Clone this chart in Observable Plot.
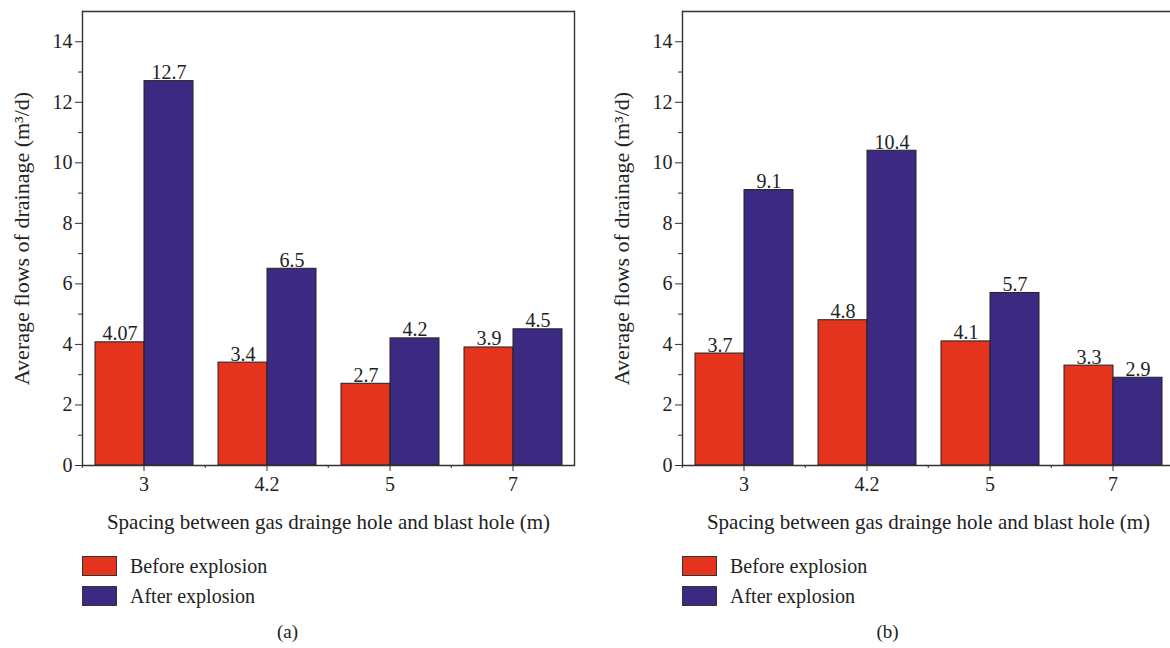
<!DOCTYPE html>
<html><head><meta charset="utf-8">
<script src="https://cdn.jsdelivr.net/npm/d3@7"></script>
<script src="https://cdn.jsdelivr.net/npm/@observablehq/plot@0.6"></script>
<style>
body{margin:0;background:#fff;font-family:"Liberation Serif",serif;color:#222;overflow:hidden}
#root{position:relative;width:1170px;height:648px;overflow:hidden;background:#fff}
.panel{position:absolute;top:0;width:585px;height:648px}
.panel svg{position:absolute;left:0;top:0}
.panel svg, .panel svg text{font-family:"Liberation Serif",serif !important}
.legend{position:absolute;left:82px;top:551px;font-size:20px}
.item{display:flex;align-items:center;height:30px}
.sw{width:35px;height:20px;border:1px solid #333;margin-right:13px;box-sizing:border-box}
.cap{position:absolute;top:621px;left:0;width:575px;text-align:center;font-size:19px}
</style>
</head><body><div id="root"></div>
<script>
const spacing = ["3", "4.2", "5", "7"];
const series = ["Before explosion", "After explosion"];
const beforeA = [4.07, 3.4, 2.7, 3.9];
const afterA = [12.7, 6.5, 4.2, 4.5];
const beforeB = [3.7, 4.8, 4.1, 3.3];
const afterB = [9.1, 10.4, 5.7, 2.9];
const yTicks = [0, 2, 4, 6, 8, 10, 12, 14];
const yMinorTicks = [1, 3, 5, 7, 9, 11, 13];
const colors = ["#E4341E", "#3C2981"];
const xLabel = "Spacing between gas drainge hole and blast hole (m)";
const yLabel = "Average flows of drainage (m³/d)";
const panelNames = ["(a)", "(b)"];

const W = 585, MARGIN_LEFT = 81, MARGIN_RIGHT = 10;
const step = (W - MARGIN_LEFT - MARGIN_RIGHT) / spacing.length;

function rowsOf(before, after) {
  const rows = [];
  spacing.forEach((s, i) => {
    rows.push({spacing: s, series: series[0], value: before[i]});
    rows.push({spacing: s, series: series[1], value: after[i]});
  });
  return rows;
}

function chart(before, after) {
  const rows = rowsOf(before, after);
  const ink = "#333";
  return Plot.plot({
    width: W, height: 531,
    marginLeft: MARGIN_LEFT, marginRight: MARGIN_RIGHT, marginTop: 11, marginBottom: 66,
    style: {fontFamily: "Liberation Serif", fontSize: "20px", color: "#222", background: "white", overflow: "visible"},
    fx: {domain: spacing, padding: 0, axis: null},
    x: {domain: series, paddingInner: 0, paddingOuter: 0.235, axis: null},
    y: {domain: [0, 15], axis: null},
    color: {domain: series, range: colors},
    marks: [
      Plot.barY(rows, {fx: "spacing", x: "series", y: "value", fill: "series", stroke: "#222", strokeWidth: 1}),
      Plot.text(rows, {fx: "spacing", x: "series", y: "value", text: d => String(d.value), lineAnchor: "bottom", dy: -2, fontSize: 20, fill: "#222"}),
      Plot.ruleY([0, 15], {stroke: ink, strokeWidth: 1.3}),
      Plot.frame({anchor: "left", facetAnchor: "left", stroke: ink, strokeWidth: 1.4}),
      Plot.frame({anchor: "right", facetAnchor: "right", stroke: ink, strokeWidth: 1.4}),
      Plot.axisY(yTicks, {tickSize: 7, tickPadding: 3, stroke: ink, fill: "#222", fontSize: 20, label: null}),
      Plot.axisY(yMinorTicks, {tickSize: 4, stroke: ink, tickFormat: () => "", label: null}),
      Plot.axisY({ticks: [], fill: "#222", fontSize: 22, label: yLabel, labelAnchor: "center", labelArrow: "none", labelOffset: 69}),
      Plot.axisFx({anchor: "bottom", tickSize: 6, tickPadding: 5, stroke: ink, fill: "#222", fontSize: 20, label: null}),
      Plot.axisFx({anchor: "bottom", tickSize: 3, stroke: ink, tickFormat: () => "", label: null, dx: -step / 2}),
      Plot.axisFx({anchor: "bottom", ticks: [], fill: "#222", fontSize: 21, label: xLabel, labelAnchor: "center", labelArrow: "none"})
    ]
  });
}

const root = document.getElementById("root");
[[beforeA, afterA], [beforeB, afterB]].forEach(([b, a], k) => {
  const panel = document.createElement("div");
  panel.className = "panel";
  panel.style.left = (k * 600) + "px";
  panel.appendChild(chart(b, a));
  const legend = document.createElement("div");
  legend.className = "legend";
  series.forEach((s, i) => {
    const item = document.createElement("div");
    item.className = "item";
    const sw = document.createElement("div");
    sw.className = "sw";
    sw.style.background = colors[i];
    const t = document.createElement("span");
    t.textContent = s;
    item.appendChild(sw); item.appendChild(t);
    legend.appendChild(item);
  });
  panel.appendChild(legend);
  const cap = document.createElement("div");
  cap.className = "cap";
  cap.textContent = panelNames[k];
  panel.appendChild(cap);
  root.appendChild(panel);
});
</script>
</body></html>
